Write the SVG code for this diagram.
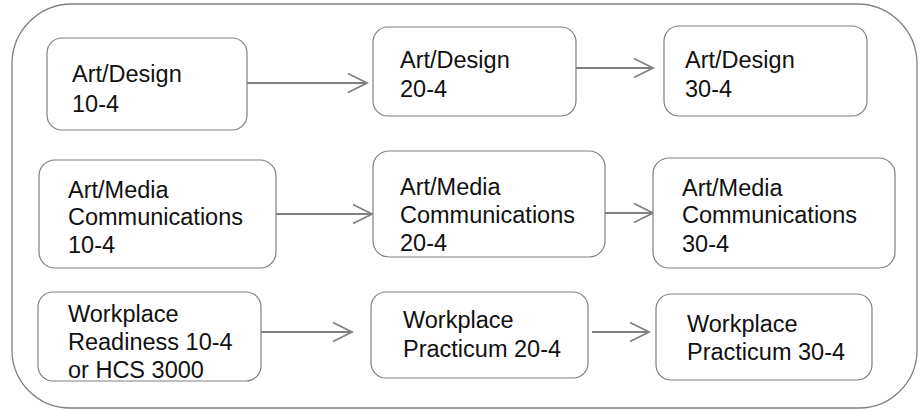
<svg xmlns="http://www.w3.org/2000/svg" width="920" height="410" viewBox="0 0 920 410">
<defs>
<marker id="arr" markerUnits="userSpaceOnUse" markerWidth="24" markerHeight="24" refX="20" refY="11" orient="auto" viewBox="0 0 24 22">
<path d="M1,1.5 L20,11 L1,20.5" fill="none" stroke="#808080" stroke-width="1.8"/>
</marker>
</defs>
<style>
.box{fill:#fff;stroke:#808080;stroke-width:1.2}
.t{font-family:"Liberation Sans",Arial,sans-serif;font-size:23.5px;fill:#111}
.c{fill:none;stroke:#808080;stroke-width:2;marker-end:url(#arr)}
</style>
<rect x="0" y="0" width="920" height="410" fill="#fff"/>
<path id="frame" d="M72,4 H857 A60,60 0 0 1 917,64 V350 A58,58 0 0 1 859,408 H70 A58,58 0 0 1 12,350 V64 A60,60 0 0 1 72,4 Z" fill="none" stroke="#808080" stroke-width="1.3"/>
<g id="connectors">
<line class="c" x1="247" y1="83" x2="367" y2="83"/>
<line class="c" x1="576" y1="68" x2="653" y2="68"/>
<line class="c" x1="276" y1="214" x2="372" y2="214"/>
<line class="c" x1="605" y1="213" x2="653" y2="213"/>
<line class="c" x1="261" y1="332" x2="352" y2="332"/>
<line class="c" x1="592" y1="332" x2="649" y2="332"/>
</g>
<g id="n1"><rect class="box" x="47" y="38" width="200" height="92" rx="15"/>
<text class="t" x="72" y="82">Art/Design</text><text class="t" x="72" y="112">10-4</text></g>
<g id="n2"><rect class="box" x="373" y="27" width="203" height="89" rx="15"/>
<text class="t" x="400" y="68">Art/Design</text><text class="t" x="400" y="97">20-4</text></g>
<g id="n3"><rect class="box" x="664" y="26" width="203" height="90" rx="15"/>
<text class="t" x="685" y="68">Art/Design</text><text class="t" x="685" y="97">30-4</text></g>
<g id="n4"><rect class="box" x="39" y="160" width="237" height="108" rx="16"/>
<text class="t" x="68" y="198">Art/Media</text><text class="t" x="68" y="225">Communications</text><text class="t" x="68" y="253">10-4</text></g>
<g id="n5"><rect class="box" x="373" y="151" width="232" height="106" rx="16"/>
<text class="t" x="400" y="195">Art/Media</text><text class="t" x="400" y="223">Communications</text><text class="t" x="400" y="251">20-4</text></g>
<g id="n6"><rect class="box" x="653" y="158" width="242" height="110" rx="16"/>
<text class="t" x="682" y="196">Art/Media</text><text class="t" x="682" y="223">Communications</text><text class="t" x="682" y="252">30-4</text></g>
<g id="n7"><rect class="box" x="38" y="292" width="223" height="89" rx="15"/>
<text class="t" x="68" y="322">Workplace</text><text class="t" x="68" y="350">Readiness 10-4</text><text class="t" x="68" y="378">or HCS 3000</text></g>
<g id="n8"><rect class="box" x="371" y="292" width="217" height="86" rx="15"/>
<text class="t" x="403" y="328">Workplace</text><text class="t" x="403" y="357">Practicum 20-4</text></g>
<g id="n9"><rect class="box" x="656" y="294" width="216" height="86" rx="15"/>
<text class="t" x="687" y="332">Workplace</text><text class="t" x="687" y="360">Practicum 30-4</text></g>
</svg>
